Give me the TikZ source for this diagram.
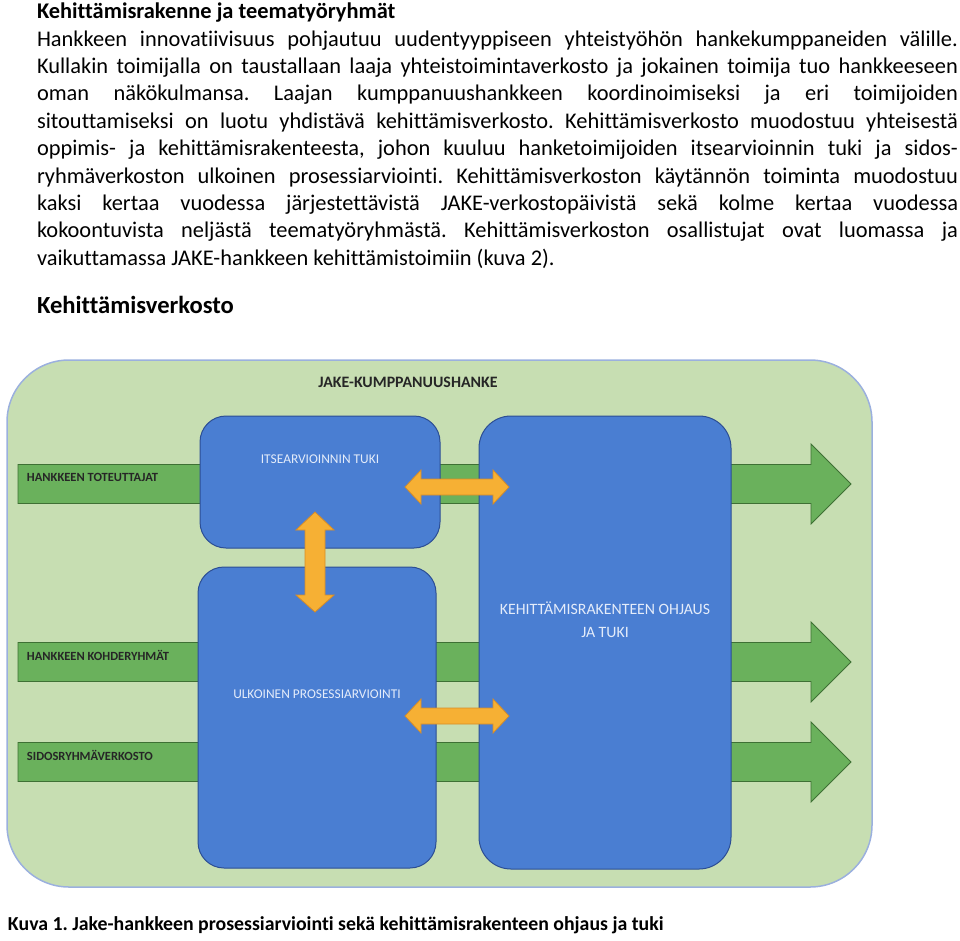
\documentclass[tikz,border=0pt]{standalone}
\usepackage{fontspec}
\setmainfont{Carlito}[Ligatures=NoCommon]
\usepackage{xcolor}
\usetikzlibrary{positioning,calc}

\definecolor{bggreen}{RGB}{199,222,178}
\definecolor{bgframe}{RGB}{155,176,222}
\definecolor{boxblue}{RGB}{74,126,210}
\definecolor{boxedge}{RGB}{44,78,148}
\definecolor{bargreen}{RGB}{106,177,92}
\definecolor{baredge}{RGB}{62,112,52}
\definecolor{arrorange}{RGB}{246,176,52}
\definecolor{arredge}{RGB}{214,140,40}
\definecolor{lbltext}{RGB}{228,236,250}

\tikzset{
  bluebox/.style={draw=boxedge, line width=1pt, fill=boxblue, rounded corners=26pt, anchor=north west},
  boxlabel/.style={text=lbltext, font=\fontsize{13.4}{23}\selectfont, align=center},
  barlabel/.style={text=black!85, font=\bfseries\fontsize{12.5}{14}\selectfont, anchor=west},
  bararrow/.style={draw=baredge, line width=0.8pt, fill=bargreen},
  orangearrow/.style={draw=arredge, line width=0.8pt, fill=arrorange}
}

\begin{document}
\frenchspacing
\begin{tikzpicture}[x=1pt, y=-1pt, every node/.style={inner sep=0pt, outer sep=0pt}]
  \useasboundingbox (0,0) rectangle (960,940);

  % text above the figure
  \node[anchor=north west, text width=921pt, align=justify,
        font=\fontsize{22.4}{27.4}\selectfont] (intro) at (37,3)
      {\textbf{Kehittämisrakenne ja teematyöryhmät}\\
       Hankkeen innovatiivisuus pohjautuu uudentyyppiseen yhteistyöhön hankekumppaneiden välille.\linebreak
       Kullakin toimijalla on taustallaan laaja yhteistoimintaverkosto ja jokainen toimija tuo hankkeeseen\linebreak
       oman näkökulmansa. Laajan kumppanuushankkeen koordinoimiseksi ja eri toimijoiden\linebreak
       sitouttamiseksi on luotu yhdistävä kehittämisverkosto. Kehittämisverkosto muodostuu yhteisestä\linebreak
       oppimis- ja kehittämisrakenteesta, johon kuuluu hanketoimijoiden itsearvioinnin tuki ja sidos-\linebreak
       ryhmäverkoston ulkoinen prosessiarviointi. Kehittämisverkoston käytännön toiminta muodostuu\linebreak
       kaksi kertaa vuodessa järjestettävistä JAKE-verkostopäivistä sekä kolme kertaa vuodessa\linebreak
       kokoontuvista neljästä teematyöryhmästä. Kehittämisverkoston osallistujat ovat luomassa ja\linebreak
       vaikuttamassa JAKE-hankkeen kehittämistoimiin (kuva 2).};

  \node[anchor=base west, font=\bfseries\fontsize{24.6}{30}\selectfont] (verkosto) at (37,313) {Kehittämisverkosto};

  % frame of the partnership
  \node[draw=bgframe, line width=1.5pt, fill=bggreen, rounded corners=62pt,
        minimum width=865pt, minimum height=527pt, anchor=north west] (hanke) at (7,360) {};
  \node[font=\bfseries\fontsize{15.9}{18}\selectfont, text=black!85] (hanketitle) at (408,382) {JAKE-KUMPPANUUSHANKE};

  % green arrows behind the boxes
  \foreach \yy/\txt/\nm in {484/HANKKEEN TOTEUTTAJAT/tot,
                           662/HANKKEEN KOHDERYHMÄT/koh,
                           762/SIDOSRYHMÄVERKOSTO/sid} {
    \draw[bararrow] (18,\yy-19.5) -- (811,\yy-19.5) -- (811,\yy-40) -- (851,\yy)
      -- (811,\yy+40) -- (811,\yy+19.5) -- (18,\yy+19.5) -- cycle;
    \node[barlabel] (\nm) at (27,\yy-7) {\txt};
  }

  % blue boxes
  \node[bluebox, minimum width=240pt, minimum height=132pt] (itse) at (200,416) {};
  \node[bluebox, minimum width=238pt, minimum height=301pt] (ulko) at (198,567) {};
  \node[bluebox, rounded corners=32pt, minimum width=252pt, minimum height=453pt] (ohjaus) at (479,416) {};

  \node[boxlabel] (itselbl) at ($(itse.north)+(0,43)$) {ITSEARVIOINNIN TUKI};
  \node[boxlabel] (ulkolbl) at ($(ulko.north)+(0,127)$) {ULKOINEN PROSESSIARVIOINTI};
  \node[boxlabel, font=\fontsize{15.8}{23}\selectfont] (ohjauslbl) at ($(ohjaus.north)+(0,204)$)
      {KEHITTÄMISRAKENTEEN OHJAUS\\JA TUKI};

  % orange double arrows
  \foreach \yy in {487,716} {
    \draw[orangearrow] (405,\yy) -- (421,\yy-17) -- (421,\yy-8) -- (493,\yy-8) -- (493,\yy-17)
      -- (509,\yy) -- (493,\yy+17) -- (493,\yy+8) -- (421,\yy+8) -- (421,\yy+17) -- cycle;
  }
  \draw[orangearrow] (315,512) -- (334,530) -- (325,530) -- (325,595) -- (334,595)
    -- (315,612) -- (296,595) -- (305,595) -- (305,530) -- (296,530) -- cycle;

  % caption
  \node[anchor=base west, font=\bfseries\fontsize{19.8}{25}\selectfont] (kuva) at (8,930)
      {Kuva 1. Jake-hankkeen prosessiarviointi sekä kehittämisrakenteen ohjaus ja tuki};
\end{tikzpicture}
\end{document}
